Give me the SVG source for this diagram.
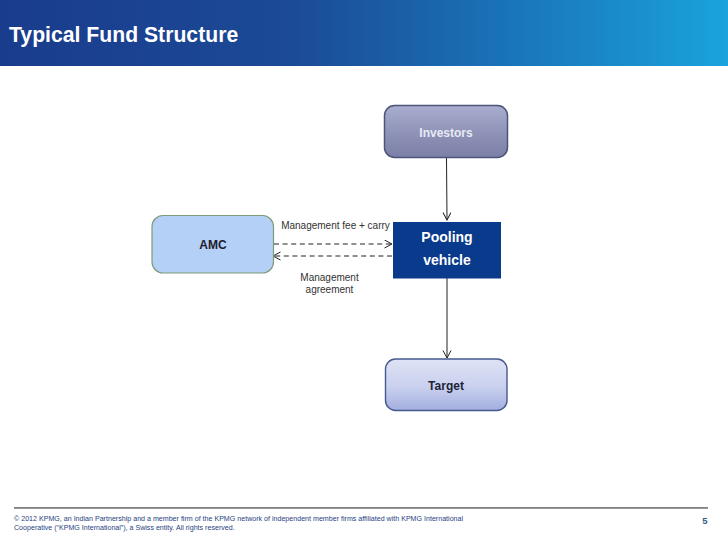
<svg xmlns="http://www.w3.org/2000/svg" width="728" height="546" viewBox="0 0 728 546">
<style>
text{font-family:"Liberation Sans",Arial,sans-serif}
.b{font-weight:700;text-anchor:middle}
.lab{font-size:10px;fill:#333;text-anchor:middle}
.foot{font-size:7.1px;fill:#1f3f7f}
.con{stroke:#222;stroke-width:1;fill:none}
.dash{stroke-dasharray:5 3.6}
</style>
<defs>
<linearGradient id="hdr" x1="0" x2="1" y1="0" y2="0"><stop offset="0" stop-color="#1a3c8c"/><stop offset=".4" stop-color="#1b4a96"/><stop offset=".7" stop-color="#1a74b8"/><stop offset="1" stop-color="#1aa3dc"/></linearGradient>
<linearGradient id="inv" x1="0" x2="0" y1="0" y2="1"><stop offset="0" stop-color="#a9aed0"/><stop offset=".5" stop-color="#9094b8"/><stop offset="1" stop-color="#7b7fa6"/></linearGradient>
<linearGradient id="tgt" x1="0" x2="0" y1="0" y2="1"><stop offset="0" stop-color="#dfe3f6"/><stop offset=".55" stop-color="#c9d0ee"/><stop offset="1" stop-color="#a3aedf"/></linearGradient>
<marker id="arr" markerWidth="10" markerHeight="10" refX="8" refY="4.5" orient="auto" markerUnits="userSpaceOnUse"><path d="M0.5 0.5L8 4.5L0.5 8.5" fill="none" stroke="#222" stroke-width="1"/></marker>
</defs>
<rect width="728" height="546" fill="#fff"/>
<rect width="728" height="66" fill="url(#hdr)"/>
<text x="9" y="42" font-size="21.200" font-weight="700" fill="#fff">Typical Fund Structure</text>
<g id="connectors">
<path class="con" marker-end="url(#arr)" d="M446.500 158L447 220"/>
<path class="con" marker-end="url(#arr)" d="M447 278L447 358"/>
<path class="con dash" marker-end="url(#arr)" d="M274 244L392 244"/>
<path class="con dash" marker-end="url(#arr)" d="M392 256L273 256"/>
</g>
<g id="investors">
<rect x="384.500" y="105.500" width="123" height="52" rx="10" fill="url(#inv)" stroke="#4d5578" stroke-width="1.500"/>
<text class="b" x="446" y="137" font-size="12" fill="#e8eaf4">Investors</text>
</g>
<g id="amc">
<rect x="152" y="215.500" width="121.500" height="57.500" rx="11" fill="#b5d0f7" stroke="#7f9a78" stroke-width="1.200"/>
<text class="b" x="213" y="249" font-size="12" fill="#1c1c2c">AMC</text>
</g>
<g id="pooling-vehicle">
<rect x="393" y="222" width="108" height="56.500" fill="#0a3a8c"/>
<text class="b" x="447" y="242" font-size="14" fill="#fff">Pooling</text>
<text class="b" x="447" y="265" font-size="14" fill="#fff">vehicle</text>
</g>
<g id="target">
<rect x="385.500" y="359" width="121.500" height="51.500" rx="10" fill="url(#tgt)" stroke="#46598f" stroke-width="1.400"/>
<text class="b" x="446" y="390" font-size="12" fill="#1e2438">Target</text>
</g>
<text class="lab" x="335.500" y="229">Management fee + carry</text>
<text class="lab" x="329.500" y="281">Management</text>
<text class="lab" x="329.500" y="293">agreement</text>
<rect x="14" y="507" width="694" height="1.800" fill="#808080"/>
<text class="foot" x="14" y="521">© 2012 KPMG, an Indian Partnership and a member firm of the KPMG network of independent member firms affiliated with KPMG International</text>
<text class="foot" x="14" y="530">Cooperative (“KPMG International”), a Swiss entity. All rights reserved.</text>
<text x="705" y="524" font-size="9.500" font-weight="700" fill="#3a5a8f" text-anchor="middle">5</text>
</svg>
